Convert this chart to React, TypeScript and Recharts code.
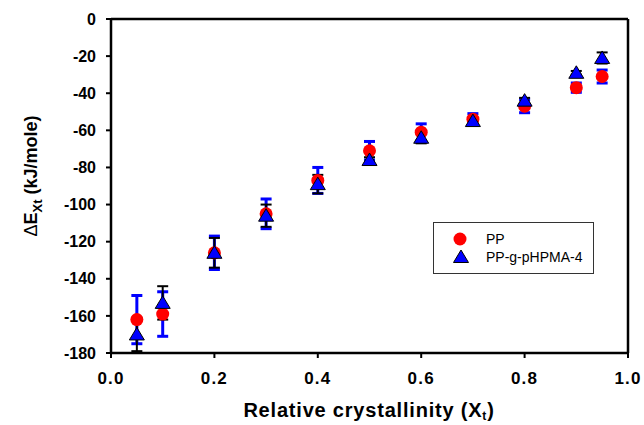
import React from "react";
import {
  ScatterChart,
  Scatter,
  XAxis,
  YAxis,
  ErrorBar,
  Legend,
  ReferenceLine,
  Label,
} from "recharts";

const crystallinity = [0.05, 0.1, 0.2, 0.3, 0.4, 0.5, 0.6, 0.7, 0.8, 0.9, 0.95];
const ppEnergy = [-162, -159, -126, -105, -87, -71, -61, -54, -47, -37, -31];
const ppError = [13, 12, 9, 8, 7, 5, 4.5, 3, 3.5, 2.5, 3.5];
const graftEnergy = [-170, -153, -126, -106, -89, -76, -64, -55, -44, -29, -21];
const graftError = [9, 9, 8, 6, 5, 1.5, 3, 2, 1.5, 1, 3];

const xTicks = [0, 0.2, 0.4, 0.6, 0.8, 1.0];
const yTicks = [-180, -160, -140, -120, -100, -80, -60, -40, -20, 0];

const ppData = crystallinity.map((x, i) => ({ x, y: ppEnergy[i], err: ppError[i] }));
const graftData = crystallinity.map((x, i) => ({ x, y: graftEnergy[i], err: graftError[i] }));

const FONT = "'Liberation Sans', Arial, sans-serif";

const Circle = (props: any) => (
  <circle cx={props.cx} cy={props.cy} r={6.5} fill="#ff0000" />
);

const Triangle = (props: any) => {
  const { cx, cy } = props;
  const pts = `${cx},${cy - 7} ${cx - 7.5},${cy + 5.5} ${cx + 7.5},${cy + 5.5}`;
  return <polygon points={pts} fill="#0000ff" stroke="#000" strokeWidth={1} />;
};

const legendContent = () => (
  <div
    style={{
      border: "1.5px solid #333",
      background: "#fff",
      width: 161,
      height: 52,
      boxSizing: "border-box",
      fontFamily: FONT,
      fontSize: 14,
      paddingTop: 7,
    }}
  >
    <div style={{ display: "flex", alignItems: "center", height: 18 }}>
      <svg width={52} height={18}>
        <circle cx={26} cy={9} r={6.5} fill="#ff0000" />
      </svg>
      <span>PP</span>
    </div>
    <div style={{ display: "flex", alignItems: "center", height: 18 }}>
      <svg width={52} height={18}>
        <polygon points="27,2 19.5,14.5 34.5,14.5" fill="#0000ff" stroke="#000" strokeWidth={1} />
      </svg>
      <span>PP-g-pHPMA-4</span>
    </div>
  </div>
);

const YLabel = (props: any) => {
  const vb = props.viewBox;
  const cx = 37;
  const cy = vb.y + vb.height / 2 - 10;
  return (
    <text
      x={cx}
      y={cy}
      transform={`rotate(-90, ${cx}, ${cy})`}
      textAnchor="middle"
      fontFamily={FONT}
      fontSize={18}
      fontWeight="bold"
      fill="#000"
    >
      <tspan fontWeight="normal">Δ</tspan>E
      <tspan fontSize={13} dy={5}>Xt</tspan>
      <tspan dy={-5}> (kJ/mole)</tspan>
    </text>
  );
};

const XLabel = (props: any) => {
  const vb = props.viewBox;
  const cx = 369;
  const cy = vb.y + 64;
  return (
    <text
      x={cx}
      y={cy}
      textAnchor="middle"
      fontFamily={FONT}
      fontSize={20}
      fontWeight="bold"
      letterSpacing={0.8}
      fill="#000"
    >
      Relative crystallinity (X
      <tspan fontSize={12} dy={3}>t</tspan>
      <tspan dy={-3}>)</tspan>
    </text>
  );
};

export default function App() {
  const yTickStyle = { fill: "#000", fontSize: 16, fontWeight: "bold", fontFamily: FONT };
  const xTickStyle = { ...yTickStyle, fontSize: 17, letterSpacing: 1.2 };
  return (
    <div style={{ position: "absolute", left: 0, top: 0, background: "#fff" }}>
      <ScatterChart width={644} height={425} margin={{ top: 19, right: 16, bottom: 0, left: 0 }}>
        <XAxis
          type="number"
          dataKey="x"
          domain={[0, 1]}
          ticks={xTicks}
          tickFormatter={(v: number) => v.toFixed(1)}
          height={72}
          axisLine={{ stroke: "#000", strokeWidth: 2.5 }}
          tickLine={{ stroke: "#000", strokeWidth: 2 }}
          tickSize={5}
          tickMargin={14}
          tick={xTickStyle}
          allowDataOverflow
        >
          <Label content={<XLabel />} />
        </XAxis>
        <YAxis
          type="number"
          dataKey="y"
          domain={[-180, 0]}
          ticks={yTicks}
          width={111}
          axisLine={{ stroke: "#000", strokeWidth: 2.5 }}
          tickLine={{ stroke: "#000", strokeWidth: 2 }}
          tickSize={5}
          tickMargin={10}
          tick={yTickStyle}
          allowDataOverflow
        >
          <Label content={<YLabel />} />
        </YAxis>
        <ReferenceLine y={0} stroke="#000" strokeWidth={2.5} />
        <ReferenceLine x={1} stroke="#000" strokeWidth={2.5} />
        <Scatter name="PP" data={ppData} shape={<Circle />} fill="#ff0000" isAnimationActive={false}>
          <ErrorBar dataKey="err" direction="y" width={5.5} stroke="#0000ff" strokeWidth={3} />
        </Scatter>
        <Scatter name="PP-g-pHPMA-4" data={graftData} shape={<Triangle />} fill="#0000ff" isAnimationActive={false}>
          <ErrorBar dataKey="err" direction="y" width={5.5} stroke="#000" strokeWidth={2} />
        </Scatter>
        <Legend
          layout="vertical"
          align="center"
          verticalAlign="middle"
          content={legendContent}
          wrapperStyle={{ left: 433, top: 222, width: 161, height: 52 }}
        />
      </ScatterChart>
    </div>
  );
}
